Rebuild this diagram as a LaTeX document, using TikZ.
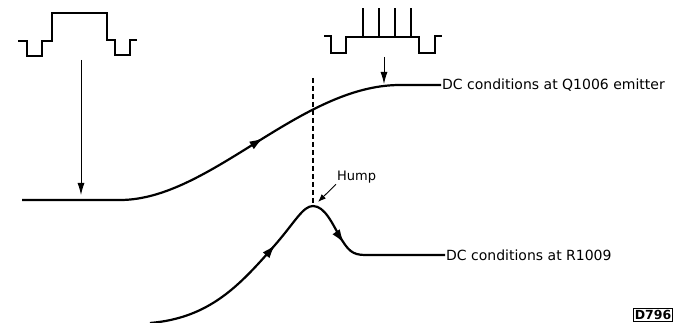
\documentclass[tikz,border=0pt]{standalone}
\usepackage{fontspec}
\setmainfont{DejaVu Sans}
\usetikzlibrary{arrows.meta,decorations.markings}

\begin{document}
\begin{tikzpicture}[x=1pt,y=-1pt,
  wave/.style={line width=1.4pt},
  trace/.style={line width=2.2pt},
  pointer/.style={line width=0.9pt,-{Latex[length=12pt,width=7pt]}},
  caption/.style={font=\fontsize{14}{16}\selectfont,anchor=west,inner sep=1pt},
  onearrow/.style={postaction={decorate},decoration={markings,
    mark=at position #1 with {\arrow{Latex[length=14pt,width=9pt]}}}},
  twoarrows/.style 2 args={postaction={decorate},decoration={markings,
    mark=at position #1 with {\arrow{Latex[length=14pt,width=9pt]}},
    mark=at position #2 with {\arrow{Latex[length=14pt,width=9pt]}}}}]
\useasboundingbox (0,0) rectangle (681,323);
% input waveforms
\draw[wave] (18,41) -| (27,56) -| (42,41) -| (52,13) -| (107,40) -| (115,55) -| (130,40) -- (137,40);
\draw[wave] (324,36) -| (331,53) -| (346,37) -| (419,53) -| (435,36) -- (442,36);
\foreach \x in {363,379,395,411}
  \draw[wave] (\x,37) -- (\x,8);
\coordinate (in1) at (81,60);
\coordinate (hit1) at (81,195);
\coordinate (in2) at (384,57);
\coordinate (hit2) at (384,84);
\draw[pointer] (in1) -- (hit1);
\draw[pointer] (in2) -- (hit2);
% labels
\node[caption] (qlab) at (441,85) {DC conditions at Q1006 emitter};
\node[caption] (rlab) at (445,255) {DC conditions at R1009};
\node[font=\fontsize{13}{15}\selectfont,anchor=west,inner sep=1pt] (hump) at (336,177) {Hump};
\node[draw,line width=1.3pt,inner xsep=1.5pt,inner ysep=1.5pt,font=\bfseries\fontsize{12.5}{13}\selectfont] (fig) at (653,315) {D796};
% traces
\draw[trace,onearrow=0.575] (22,200) -- (120,200) .. controls (210,200) and (300,85) .. (400,85) -- (qlab.west);
\coordinate (peak) at (313,206);
\draw[trace,twoarrows={0.42}{0.71}] (150,323) .. controls (210,318) and (240,285) .. (275,245)
  .. controls (295,222) and (303,206) .. (peak)
  .. controls (325,206) and (333,225) .. (340,237)
  .. controls (348,250) and (352,255) .. (365,255) -- (rlab.west);
\coordinate (dtop) at (313,78);
\draw[line width=1.3pt,dash pattern=on 5pt off 3pt] (dtop) -- (peak);
\coordinate (peaktip) at (318,202);
\draw[pointer,-{Latex[length=8pt,width=6pt]}] (hump.south west) -- (peaktip);
\end{tikzpicture}
\end{document}
